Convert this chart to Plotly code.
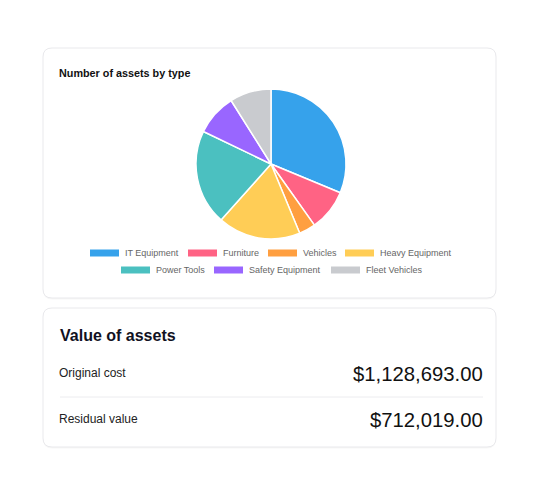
import plotly.graph_objects as go

# ---- data ----
categories = ["IT Equipment", "Furniture", "Vehicles", "Heavy Equipment",
              "Power Tools", "Safety Equipment", "Fleet Vehicles"]
counts = [35, 10, 4, 20, 23, 10, 10]
colors = ["#36A2EB", "#FF6384", "#FF9F40", "#FFCD56", "#4BC0C0", "#9966FF", "#C9CBCF"]
value_labels = ["Original cost", "Residual value"]
value_amounts = [1128693.00, 712019.00]

W, H = 539, 499
OFF = 8  # page body margin
FONT = "Liberation Sans, Arial, Helvetica, sans-serif"


def px(x):
    return (x - OFF) / W


def py(y):
    return 1 - (y - OFF) / H


def rounded_rect(x0, y0, x1, y1, r):
    pts = [
        f"M{px(x0 + r)},{py(y0)}",
        f"L{px(x1 - r)},{py(y0)}",
        f"Q{px(x1)},{py(y0)} {px(x1)},{py(y0 + r)}",
        f"L{px(x1)},{py(y1 - r)}",
        f"Q{px(x1)},{py(y1)} {px(x1 - r)},{py(y1)}",
        f"L{px(x0 + r)},{py(y1)}",
        f"Q{px(x0)},{py(y1)} {px(x0)},{py(y1 - r)}",
        f"L{px(x0)},{py(y0 + r)}",
        f"Q{px(x0)},{py(y0)} {px(x0 + r)},{py(y0)}",
        "Z",
    ]
    return " ".join(pts)


fig = go.Figure()

cx, cy, R = 271, 164, 75
fig.add_trace(go.Pie(
    labels=categories,
    values=counts,
    marker=dict(colors=colors, line=dict(color="white", width=1.5)),
    sort=False,
    direction="clockwise",
    rotation=0,
    textinfo="none",
    showlegend=False,
    domain=dict(x=[px(cx - R), px(cx + R)], y=[py(cy + R), py(cy - R)]),
))

shapes = []
annotations = []

for (x0, y0, x1, y1) in [(43, 48, 496, 298), (43, 308, 496, 447)]:
    shapes.append(dict(type="path", xref="paper", yref="paper",
                       path=rounded_rect(x0, y0 + 1.5, x1, y1 + 1.5, 9),
                       fillcolor="rgba(0,0,0,0.03)", line=dict(width=0), layer="below"))
    shapes.append(dict(type="path", xref="paper", yref="paper",
                       path=rounded_rect(x0, y0, x1, y1, 9),
                       fillcolor="white", line=dict(color="#e9e9ec", width=1), layer="below"))

annotations.append(dict(text="<b>Number of assets by type</b>", x=px(57), y=py(73),
                        xref="paper", yref="paper", xanchor="left", yanchor="middle",
                        showarrow=False, font=dict(family=FONT, size=10.8, color="#111111")))

legend_rows = [[0, 1, 2, 3], [4, 5, 6]]
legend_x = {0: 90, 1: 188, 2: 268, 3: 345, 4: 121, 5: 214, 6: 331}
legend_y = {0: 253, 1: 270}
for r, row in enumerate(legend_rows):
    for i in row:
        bx = legend_x[i]
        by = legend_y[r]
        shapes.append(dict(type="rect", xref="paper", yref="paper",
                           x0=px(bx), x1=px(bx + 29), y0=py(by + 3.5), y1=py(by - 3.5),
                           fillcolor=colors[i], line=dict(width=0)))
        annotations.append(dict(text=categories[i], x=px(bx + 33), y=py(by),
                                xref="paper", yref="paper", xanchor="left", yanchor="middle",
                                showarrow=False,
                                font=dict(family=FONT, size=9, color="#666666")))

annotations.append(dict(text="<b>Value of assets</b>", x=px(58), y=py(335),
                        xref="paper", yref="paper", xanchor="left", yanchor="middle",
                        showarrow=False, font=dict(family=FONT, size=16, color="#111122")))

row_y = [373, 419]
for lab, amt, yy in zip(value_labels, value_amounts, row_y):
    annotations.append(dict(text=lab, x=px(57), y=py(yy),
                            xref="paper", yref="paper", xanchor="left", yanchor="middle",
                            showarrow=False, font=dict(family=FONT, size=12, color="#222222")))
    annotations.append(dict(text=f"${amt:,.2f}", x=px(485), y=py(yy + 1),
                            xref="paper", yref="paper", xanchor="right", yanchor="middle",
                            showarrow=False, font=dict(family=FONT, size=20.3, color="#111111")))

shapes.append(dict(type="line", xref="paper", yref="paper",
                   x0=px(60), x1=px(483), y0=py(397), y1=py(397),
                   line=dict(color="#ececef", width=1)))

fig.update_layout(
    width=W, height=H, autosize=False,
    margin=dict(l=0, r=0, t=0, b=0),
    paper_bgcolor="white", plot_bgcolor="white",
    shapes=shapes, annotations=annotations,
    showlegend=False,
)

fig.write_html("out.html")
